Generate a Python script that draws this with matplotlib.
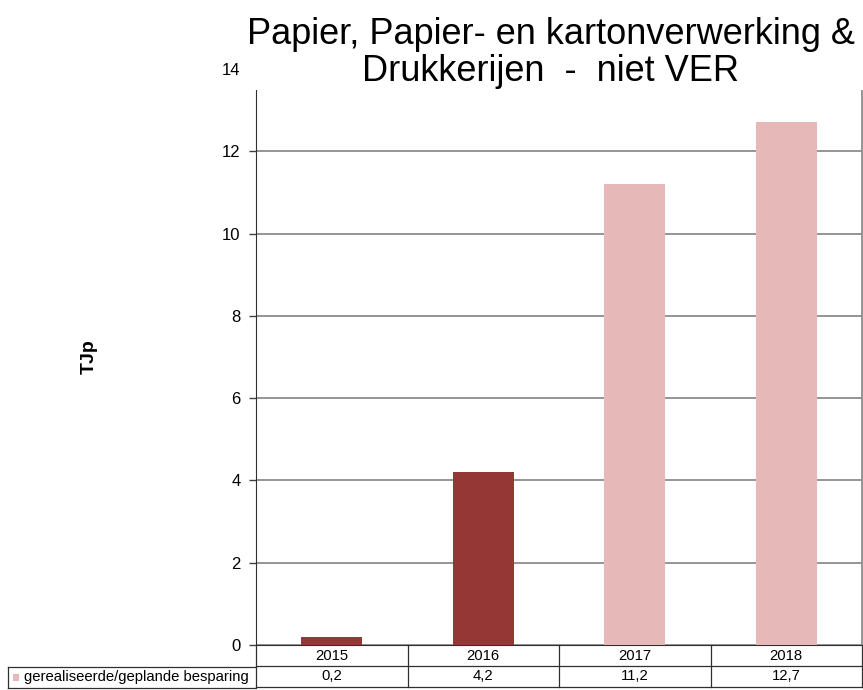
import matplotlib
matplotlib.use('Agg')
import matplotlib.pyplot as plt
from matplotlib.transforms import blended_transform_factory

plt.rcParams['font.family'] = ['Liberation Sans', 'DejaVu Sans']

# ── Data ──────────────────────────────────────────────────────────────────────
years = ['2015', '2016', '2017', '2018']
savings = [0.2, 4.2, 11.2, 12.7]
value_labels = ['0,2', '4,2', '11,2', '12,7']
bar_colors = ['#953735', '#953735', '#E6B9B8', '#E6B9B8']
series_name = 'gerealiseerde/geplande besparing'
title = 'Papier, Papier- en kartonverwerking &\nDrukkerijen  -  niet VER'
ylabel = 'TJp'
yticks = [0, 2, 4, 6, 8, 10, 12, 14]

W, H = 863, 690
fig = plt.figure(figsize=(W / 100, H / 100), dpi=100)
ax = fig.add_axes([256 / W, 1 - 645 / H, (862 - 256) / W, (645 - 69) / H])

x = list(range(len(years)))
ax.bar(x, savings, width=0.4, color=bar_colors, zorder=3)
ax.set_xlim(-0.5, len(years) - 0.5)
ax.set_ylim(0, 14)
ax.set_yticks(yticks)
ax.set_yticklabels([str(t) for t in yticks], fontsize=12)
ax.set_xticks([])
ax.tick_params(axis='y', length=5, width=1, color='#404040', pad=6)
ax.yaxis.grid(True, color='#8c8c8c', linewidth=1.3, zorder=0)
ax.spines['top'].set_visible(False)
ax.spines['left'].set_color('#303030')
ax.spines['right'].set_color('#8c8c8c')
ax.spines['right'].set_linewidth(1.3)
ax.spines['bottom'].set_color('#303030')

ax.set_ylabel(ylabel, fontsize=14, fontweight='bold', labelpad=0)
ax.yaxis.set_label_coords(-158 / 606, 0.5)

# white strip hides the top of the plot area under the title
fig.patches.append(plt.Rectangle((244 / W, 1 - 90 / H), 1, 22 / H,
                                 transform=fig.transFigure, facecolor='white',
                                 edgecolor='none', zorder=9))
fig.text(551 / W, 1 - 53 / H, title, ha='center', va='center', fontsize=26,
         linespacing=1.08, zorder=10)

# ── data table below axis ────────────────────────────────────────────────────
tr = blended_transform_factory(ax.transData, ax.transAxes)
row_h = 21 / (645 - 69)
lc = '#303030'
for i in range(len(years) + 1):
    ax.plot([i - 0.5, i - 0.5], [0, -2 * row_h], transform=tr, color=lc,
            linewidth=0.9, clip_on=False)
for k in (1, 2):
    ax.plot([-0.5, len(years) - 0.5], [-k * row_h, -k * row_h], transform=tr,
            color=lc, linewidth=0.9, clip_on=False)
for i, (yr, v) in enumerate(zip(years, value_labels)):
    ax.text(i, -0.5 * row_h, yr, transform=tr, ha='center', va='center',
            fontsize=10.7, clip_on=False)
    ax.text(i, -1.5 * row_h, v, transform=tr, ha='center', va='center',
            fontsize=10.7, clip_on=False)

# first column with legend key
ft = fig.transFigure
y1, y2 = 1 - 667 / H, 1 - 688 / H
for xs, ys in [([8 / W, 256 / W], [y1, y1]), ([8 / W, 256 / W], [y2, y2]),
               ([8 / W, 8 / W], [y1, y2])]:
    fig.add_artist(plt.Line2D(xs, ys, transform=ft, color=lc, linewidth=0.9))
fig.patches.append(plt.Rectangle((13 / W, 1 - 681 / H), 6 / W, 7 / H,
                                 transform=ft, facecolor='#E6B9B8',
                                 edgecolor='none'))
fig.text(24 / W, (y1 + y2) / 2, series_name, ha='left', va='center',
         fontsize=10.7)

plt.savefig('out.png', dpi=100)
